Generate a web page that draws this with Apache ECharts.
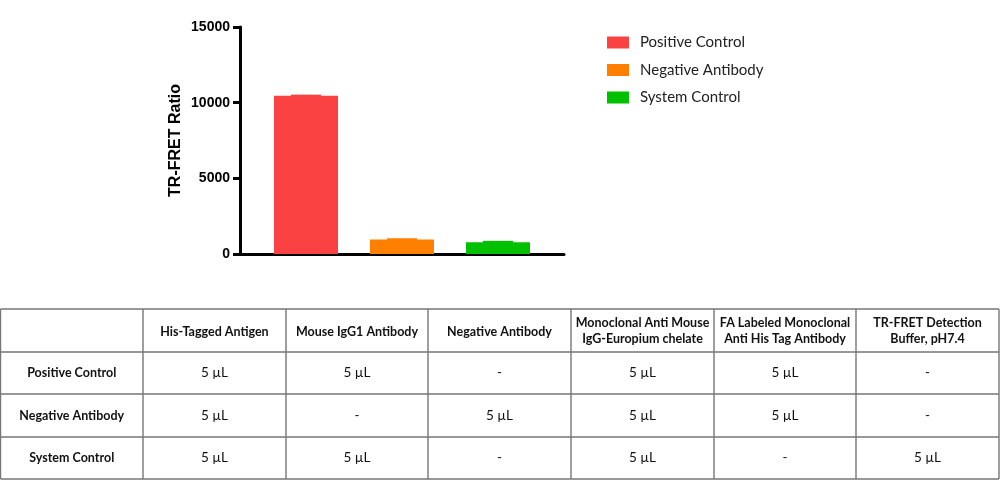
<!DOCTYPE html>
<html>
<head>
<meta charset="utf-8">
<script src="https://cdn.jsdelivr.net/npm/echarts@6/dist/echarts.min.js"></script>
<style>
  html, body { margin: 0; padding: 0; background: #fff; }
  #chart { width: 1000px; height: 300px; }
  #table { width: 1000px; height: 180px; }
</style>
</head>
<body>
<div id="chart"></div>
<div id="table"></div>
<script>
// bar data
const groups = ['Positive Control', 'Negative Antibody', 'System Control'];
const means = [10450, 950, 780];
const errors = [80, 90, 90];
const colors = ['#FA4242', '#FF8000', '#00C000'];
const yTicks = [0, 5000, 10000, 15000];

// table data
const tableHeader = ['', 'His-Tagged Antigen', 'Mouse IgG1 Antibody', 'Negative Antibody',
  'Monoclonal Anti Mouse\nIgG-Europium chelate', 'FA Labeled Monoclonal\nAnti His Tag Antibody',
  'TR-FRET Detection\nBuffer, pH7.4'];
const tableRows = ['Positive Control', 'Negative Antibody', 'System Control'];
const tableCells = [
  ['5 \u00b5L', '5 \u00b5L', '-', '5 \u00b5L', '5 \u00b5L', '-'],
  ['5 \u00b5L', '-', '5 \u00b5L', '5 \u00b5L', '5 \u00b5L', '-'],
  ['5 \u00b5L', '5 \u00b5L', '-', '5 \u00b5L', '-', '5 \u00b5L']
];

const BAR_W = 64, BAR_GAP = 32;
// table layout, relative to the table div (which starts at y = 300)
const colEdges = [0.5, 143, 286, 428, 571, 714, 856, 999];
const rowEdges = [9, 52, 94, 137, 179];
const tableFont = 'Lato, "Open Sans", sans-serif';

function buildTable() {
  const els = [];
  const left = colEdges[0], right = colEdges[colEdges.length - 1];
  const top = rowEdges[0], bottom = rowEdges[rowEdges.length - 1];
  rowEdges.forEach(y => els.push({ type: 'line', shape: { x1: left, y1: y, x2: right, y2: y },
    style: { stroke: '#767676', lineWidth: 1.4 } }));
  colEdges.forEach(x => els.push({ type: 'line', shape: { x1: x, y1: top, x2: x, y2: bottom },
    style: { stroke: '#767676', lineWidth: 1.4 } }));

  const cx = i => (colEdges[i] + colEdges[i + 1]) / 2;
  const cy = j => (rowEdges[j] + rowEdges[j + 1]) / 2;
  tableHeader.forEach((t, i) => {
    if (!t) return;
    els.push({ type: 'text', style: {
      text: t, x: cx(i), y: cy(0) + (t.indexOf('\n') < 0 ? 1.5 : 0), align: 'center', verticalAlign: 'middle',
      fontFamily: tableFont, fontWeight: 'bold', fontSize: 12.5, lineHeight: 16, fill: '#111' } });
  });
  tableRows.forEach((r, j) => {
    els.push({ type: 'text', style: {
      text: r, x: cx(0), y: cy(j + 1), align: 'center', verticalAlign: 'middle',
      fontFamily: tableFont, fontWeight: 'bold', fontSize: 12.5, fill: '#111' } });
    tableCells[j].forEach((c, i) => {
      els.push({ type: 'text', style: {
        text: c, x: cx(i + 1), y: cy(j + 1), align: 'center', verticalAlign: 'middle',
        fontFamily: tableFont, fontSize: 13.5, fill: '#111' } });
    });
  });
  return els;
}

const chart = echarts.init(document.getElementById('chart'));

const barSeries = groups.map((g, i) => ({
  name: g,
  type: 'bar',
  data: [means[i]],
  barWidth: BAR_W,
  barGap: (BAR_GAP / BAR_W * 100) + '%',
  itemStyle: { color: colors[i] },
  silent: true
}));

const errSeries = {
  type: 'custom',
  silent: true,
  data: means.map((m, i) => [0, m, errors[i], i]),
  renderItem: (params, api) => {
    const idx = api.value(3);
    const base = api.coord([0, api.value(1)]);
    const top = api.coord([0, api.value(1) + api.value(2)]);
    const x = base[0] + (idx - 1) * (BAR_W + BAR_GAP);
    return {
      type: 'rect',
      shape: { x: x - 15, y: top[1], width: 30, height: base[1] - top[1] + 1 },
      style: { fill: colors[idx] }
    };
  }
};

chart.setOption({
  animation: false,
  grid: { left: 240, right: 436, top: 27, bottom: 46 },
  legend: {
    orient: 'vertical',
    left: 607,
    top: 35,
    padding: 0,
    itemWidth: 22,
    itemHeight: 12,
    itemGap: 12.5,
    icon: 'rect',
    data: groups,
    textStyle: { fontFamily: tableFont, fontSize: 15, color: '#222', padding: [0, 0, 0, 6] }
  },
  xAxis: {
    type: 'category',
    data: [''],
    axisLine: { lineStyle: { color: '#000', width: 3 } },
    axisTick: { show: false },
    axisLabel: { show: false }
  },
  yAxis: {
    type: 'value',
    min: yTicks[0],
    max: yTicks[yTicks.length - 1],
    interval: 5000,
    name: 'TR-FRET Ratio',
    nameLocation: 'middle',
    nameGap: 56,
    nameTextStyle: { fontFamily: 'Liberation Sans, Arial', fontWeight: 'bold', fontSize: 16, color: '#000' },
    axisLine: { show: true, onZero: false, lineStyle: { color: '#000', width: 3 } },
    axisTick: { show: true, length: 7, lineStyle: { color: '#000', width: 3 } },
    axisLabel: {
      margin: 10, fontFamily: 'Liberation Sans, Arial', fontWeight: 'bold', fontSize: 14, color: '#000',
      formatter: v => String(v)
    },
    splitLine: { show: false }
  },
  series: [...barSeries, errSeries]
});

const table = echarts.init(document.getElementById('table'));
table.setOption({ animation: false, graphic: buildTable() });
</script>
</body>
</html>
